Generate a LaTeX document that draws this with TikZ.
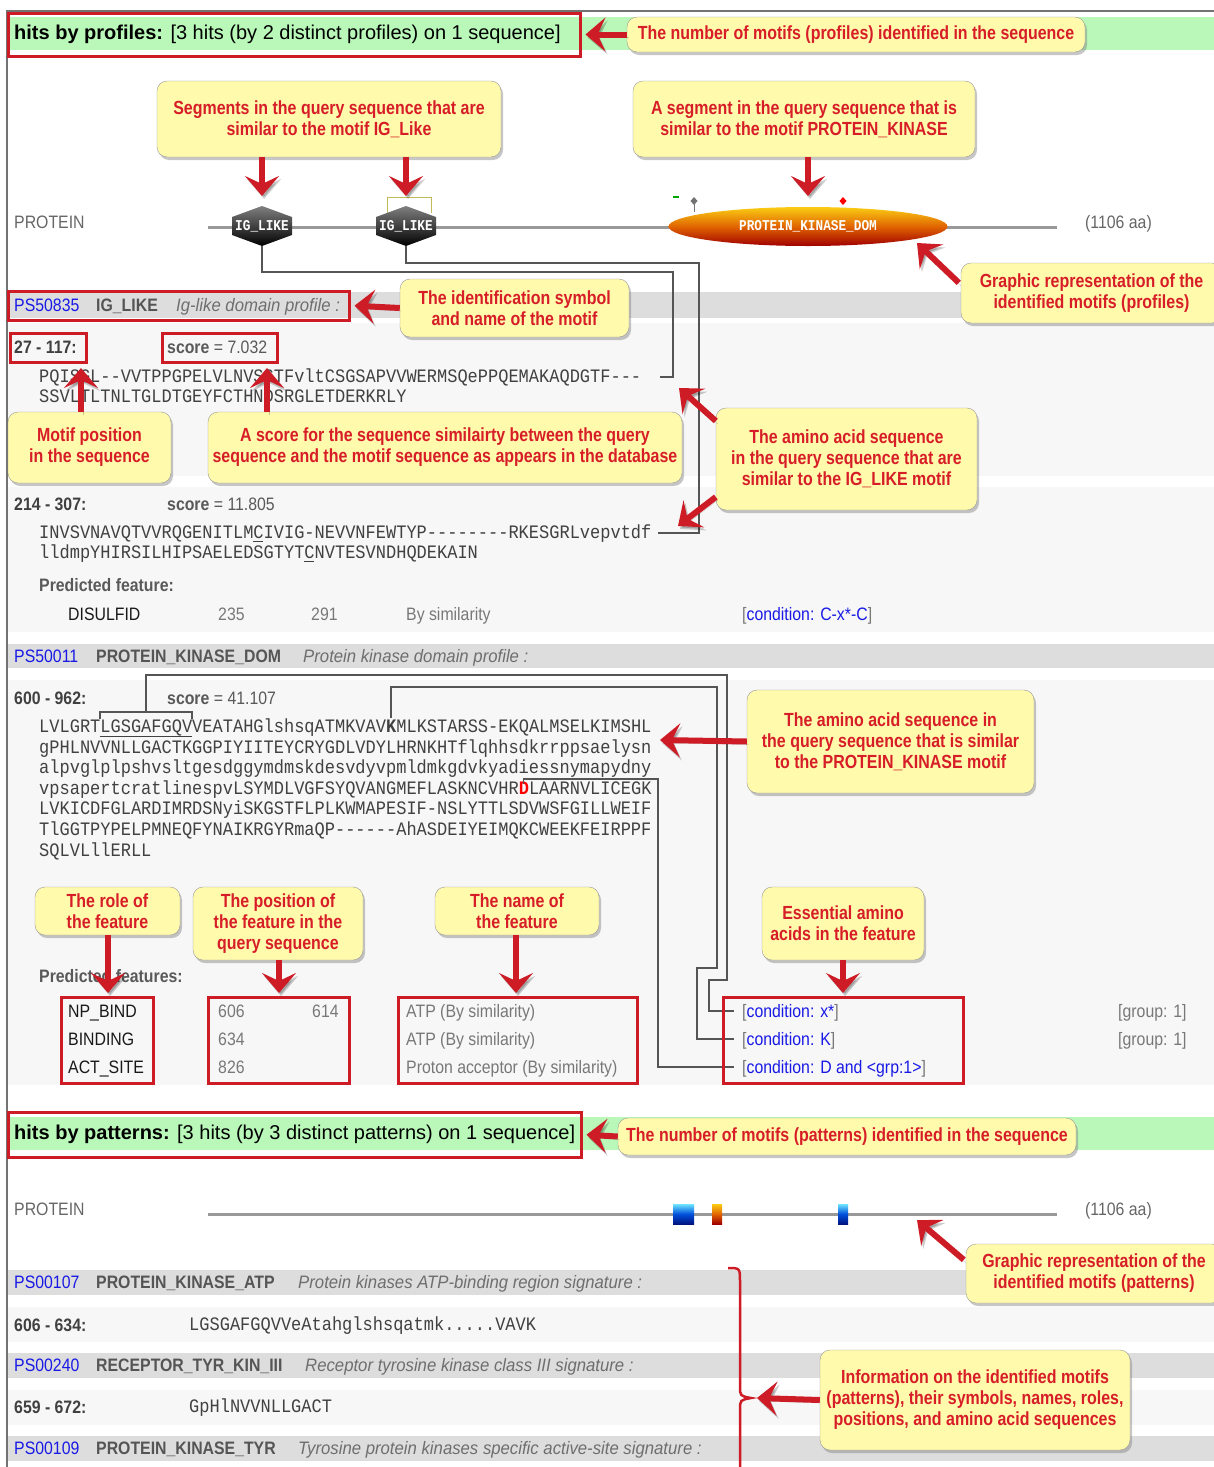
\documentclass[tikz,border=0pt]{standalone}
\usepackage{fontspec}
\setmainfont{Liberation Sans}
\newfontfamily\pagefont[FakeStretch=0.88]{Liberation Sans}
\newfontfamily\descfont[FakeStretch=0.93]{Liberation Sans}
\newfontfamily\notefont[FakeStretch=0.84]{Liberation Sans}
\newfontfamily\seqfont[FakeStretch=0.895,Ligatures=TeXOff]{Liberation Mono}
\newfontfamily\glyphfont[FakeStretch=0.85,Ligatures=TeXOff]{Liberation Mono}
\usetikzlibrary{arrows.meta,positioning,shapes,shadows}

\definecolor{notefill}{RGB}{255,250,172}
\definecolor{notered}{RGB}{215,30,40}
\definecolor{boxred}{RGB}{206,28,38}
\definecolor{bandgreen}{RGB}{185,248,185}
\definecolor{bargray}{RGB}{221,221,221}
\definecolor{rowgray}{RGB}{247,247,247}
\definecolor{linkblue}{RGB}{25,25,230}
\definecolor{namegray}{RGB}{85,85,85}
\definecolor{descgray}{RGB}{110,110,110}
\definecolor{numgray}{RGB}{120,120,120}
\definecolor{seqgray}{RGB}{65,65,65}
\definecolor{wiregray}{RGB}{85,85,85}
\definecolor{kintop}{RGB}{250,205,20}
\definecolor{kinmid}{RGB}{225,100,0}
\definecolor{kinbot}{RGB}{160,0,0}
\definecolor{patcyan}{RGB}{110,230,255}
\definecolor{patblue}{RGB}{0,80,220}
\definecolor{patnavy}{RGB}{0,20,130}

\def\cw{10.2}

\begin{document}
\begin{tikzpicture}[x=1pt,y=-1pt,
  note/.style={draw=black!40, fill=notefill, rounded corners=10pt, text=notered,
    font=\notefont\bfseries\fontsize{19}{21}\selectfont, align=center, inner sep=3pt,
    drop shadow={shadow xshift=2pt, shadow yshift=-3pt, opacity=.45}},
  redbox/.style={draw=boxred, line width=3pt, inner sep=0pt},
  callarrow/.style={draw=boxred, line width=6pt, -{Stealth[length=20pt,width=34pt,inset=8pt]},
    preaction={draw=black, opacity=.2, transform canvas={shift={(2pt,-3pt)}}}},
  ptxt/.style={font=\pagefont\fontsize{18}{20}\selectfont, anchor=west, inner sep=0pt,
    text height=14pt, text depth=2pt},
  hdr/.style={font=\fontsize{20}{24}\selectfont, anchor=west, inner sep=0pt,
    text height=15pt, text depth=2pt},
  seq/.style={font=\seqfont\fontsize{19}{20}\selectfont, anchor=west, inner sep=0pt,
    text=seqgray, text height=12pt, text depth=1pt},
  link/.style={ptxt, text=linkblue},
  pname/.style={ptxt, text=namegray, font=\pagefont\bfseries\fontsize{18}{20}\selectfont},
  pdesc/.style={ptxt, text=descgray, font=\descfont\itshape\fontsize{18}{20}\selectfont},
  poslbl/.style={ptxt, text=black!75, font=\pagefont\bfseries\fontsize{18}{20}\selectfont},
  gtxt/.style={ptxt, text=numgray},
  wire/.style={draw=wiregray, line width=1.5pt},
  motif/.style={text=white, font=\glyphfont\bfseries\fontsize{15}{16}\selectfont, inner sep=0pt},
]
\useasboundingbox (0,0) rectangle (1214,1467);
\draw[black!55, line width=1.5pt] (7,1467) -- (7,11) -- (1214,11);

% backgrounds
\fill[bandgreen] (8,17) rectangle (1214,50);
\fill[bargray] (8,292) rectangle (1214,318);
\fill[rowgray] (8,323) rectangle (1214,476);
\fill[rowgray] (8,487) rectangle (1214,632);
\fill[bargray] (8,644) rectangle (1214,668);
\fill[rowgray] (8,680) rectangle (1214,1085);
\fill[bandgreen] (8,1117) rectangle (1214,1150);
\fill[bargray] (8,1270) rectangle (1214,1295);
\fill[rowgray] (8,1307) rectangle (1214,1342);
\fill[bargray] (8,1353) rectangle (1214,1378);
\fill[rowgray] (8,1390) rectangle (1214,1425);
\fill[bargray] (8,1436) rectangle (1214,1461);

% hits by profiles
\node[hdr] (hproft) at (14,33) {\textbf{hits by profiles:} [3 hits (by 2 distinct profiles) on 1 sequence]};
\node[ptxt, text=black!60] (prot1) at (14,222) {PROTEIN};
\draw[black!40, line width=3pt] (208,227) -- (1057,227);
\node[ptxt, text=black!60] (len1) at (1085,222) {(1106 aa)};
\draw[olive!55, line width=1pt] (387,213) -- (387,197) -- (431,197) -- (431,213);
\foreach \x/\n in {262/ig1, 406/ig2} {
  \shade[top color=black!50, bottom color=black] (\x,206) -- ({\x+30},217) -- ({\x+30},235)
    -- (\x,246) -- ({\x-30},235) -- ({\x-30},217) -- cycle;
  \node[motif] (\n) at (\x,226) {IG\_LIKE};
  \coordinate (\n b) at (\x,246);
  \coordinate (\n t) at (\x,196);
}
\node[ellipse, minimum width=279pt, minimum height=39pt, top color=kintop, bottom color=kinbot,
  middle color=kinmid, motif] (kin) at (808,226.5) {PROTEIN\_KINASE\_DOM};
\coordinate (kint) at (808,196);
\draw[green!65!black, line width=2pt] (673,197) -- (679,197);
\draw[black!55, line width=1pt] (694,201) -- (694,212);
\fill[black!55] (694,197) -- (697.5,201) -- (694,205) -- (690.5,201) -- cycle;
\fill[red] (843,197) -- (846.5,201) -- (843,205) -- (839.5,201) -- cycle;

% IG_LIKE profile
\node[link] (id1) at (14,305) {PS50835};
\node[pname] (nm1) at (96,305) {IG\_LIKE};
\node[pdesc] (de1) at (176,305) {Ig-like domain profile :};
\node[poslbl] (rg1) at (14,347) {27 - 117:};
\node[ptxt, text=black!65] (sc1) at (167,347) {\textbf{score} = 7.032};
\node[seq] (q1a) at (39,377) {PQISGL--VVTPPGPELVLNVSSTFvltCSGSAPVVWERMSQePPQEMAKAQDGTF---};
\node[seq] (q1b) at (39,397) {SSVLTLTNLTGLDTGEYFCTHNDSRGLETDERKRLY};
\node[poslbl] (rg2) at (14,504) {214 - 307:};
\node[ptxt, text=black!65] (sc2) at (167,504) {\textbf{score} = 11.805};
\node[seq] (q2a) at (39,533) {INVSVNAVQTVVRQGENITLMCIVIG-NEVVNFEWTYP--------RKESGRLvepvtdf};
\node[seq] (q2b) at (39,553) {lldmpYHIRSILHIPSAELEDSGTYTCNVTESVNDHQDEKAIN};
\draw[seqgray, line width=1pt] ({39+21*\cw},541) -- ({39+22*\cw},541);
\draw[seqgray, line width=1pt] ({39+26*\cw},561) -- ({39+27*\cw},561);
\node[poslbl, text=black!65] (pf1) at (39,585) {Predicted feature:};
\node[ptxt, text=black!90] (ft1) at (68,614) {DISULFID};
\node[gtxt] (fa1) at (218,614) {235};
\node[gtxt] (fb1) at (311,614) {291};
\node[gtxt] (fc1) at (406,614) {By similarity};
\node[gtxt] (fd1) at (742,614) {[\textcolor{linkblue}{condition: C-x*-C}]};

% PROTEIN_KINASE_DOM profile
\node[link] (id2) at (14,656) {PS50011};
\node[pname] (nm2) at (96,656) {PROTEIN\_KINASE\_DOM};
\node[pdesc] (de2) at (303,656) {Protein kinase domain profile :};
\node[poslbl] (rg3) at (14,698) {600 - 962:};
\node[ptxt, text=black!65] (sc3) at (167,698) {\textbf{score} = 41.107};
\node[seq] (k1) at (39,727) {LVLGRTLGSGAFGQVVEATAHGlshsqATMKVAV\textbf{K}MLKSTARSS-EKQALMSELKIMSHL};
\node[seq] (k2) at (39,747.6) {gPHLNVVNLLGACTKGGPIYIITEYCRYGDLVDYLHRNKHTflqhhsdkrrppsaelysn};
\node[seq] (k3) at (39,768.2) {alpvglplpshvsltgesdggymdmskdesvdyvpmldmkgdvkyadiessnymapydny};
\node[seq] (k4) at (39,788.8) {vpsapertcratlinespvLSYMDLVGFSYQVANGMEFLASKNCVHR\textcolor{red}{\textbf{D}}LAARNVLICEGK};
\node[seq] (k5) at (39,809.4) {LVKICDFGLARDIMRDSNyiSKGSTFLPLKWMAPESIF-NSLYTTLSDVWSFGILLWEIF};
\node[seq] (k6) at (39,830) {TlGGTPYPELPMNEQFYNAIKRGYRmaQP------AhASDEIYEIMQKCWEEKFEIRPPF};
\node[seq] (k7) at (39,850.6) {SQLVLllERLL};
\draw[seqgray, line width=1pt] ({39+6*\cw},736) -- ({39+15*\cw},736);
\node[poslbl, text=black!65] (pf2) at (39,976) {Predicted features:};
\node[ptxt, text=black!90] (r1) at (68,1011) {NP\_BIND};
\node[ptxt, text=black!90] (r2) at (68,1039) {BINDING};
\node[ptxt, text=black!90] (r3) at (68,1067) {ACT\_SITE};
\node[gtxt] (p1) at (218,1011) {606};
\node[gtxt] (p1e) at (312,1011) {614};
\node[gtxt] (p2) at (218,1039) {634};
\node[gtxt] (p3) at (218,1067) {826};
\node[gtxt] (d1) at (406,1011) {ATP (By similarity)};
\node[gtxt] (d2) at (406,1039) {ATP (By similarity)};
\node[gtxt] (d3) at (406,1067) {Proton acceptor (By similarity)};
\node[gtxt] (cx) at (742,1011) {[\textcolor{linkblue}{condition: x*}]};
\node[gtxt] (ck) at (742,1039) {[\textcolor{linkblue}{condition: K}]};
\node[gtxt] (cd) at (742,1067) {[\textcolor{linkblue}{condition: D and <grp:1>}]};
\node[gtxt] (g1) at (1118,1011) {[group: 1]};
\node[gtxt] (g2) at (1118,1039) {[group: 1]};

% wires from the hits to their sequences and sites
\coordinate (w1) at (660,377);
\coordinate (w2) at (658,533);
\draw[wire] (ig1b) |- (673,272) |- (w1);
\draw[wire] (ig2b) |- (699,263) |- (w2);
\draw[wire] ({39+6*\cw},719) |- ({39+15*\cw},712) -- ({39+15*\cw},719);
\draw[wire] ({39+10.5*\cw},712) |- (727,675) |- (709,980) |- ([xshift=-8pt]cx.west);
\draw[wire] ({39+34.5*\cw},718) |- (717,687) |- (697,968) |- ([xshift=-8pt]ck.west);
\draw[wire] ({39+47.5*\cw},784) |- (658,779) |- ([xshift=-8pt]cd.west);

% hits by patterns
\node[hdr] (hpatt) at (14,1133) {\textbf{hits by patterns:} [3 hits (by 3 distinct patterns) on 1 sequence]};
\node[ptxt, text=black!60] (prot2) at (14,1209) {PROTEIN};
\draw[black!40, line width=3pt] (208,1214) -- (1057,1214);
\node[ptxt, text=black!60] (len2) at (1085,1209) {(1106 aa)};
\shade[top color=patcyan, bottom color=patnavy, middle color=patblue] (673,1204) rectangle (694,1224);
\shade[top color=kintop, bottom color=kinbot, middle color=kinmid] (712,1204) rectangle (722,1224);
\shade[top color=patcyan, bottom color=patnavy, middle color=patblue] (838,1204) rectangle (848,1224);
\node[link] (id3) at (14,1282) {PS00107};
\node[pname] (nm3) at (96,1282) {PROTEIN\_KINASE\_ATP};
\node[pdesc] (de3) at (298,1282) {Protein kinases ATP-binding region signature :};
\node[poslbl] (rg4) at (14,1325) {606 - 634:};
\node[seq] (s3) at (189,1325) {LGSGAFGQVVeAtahglshsqatmk.....VAVK};
\node[link] (id4) at (14,1365) {PS00240};
\node[pname] (nm4) at (96,1365) {RECEPTOR\_TYR\_KIN\_III};
\node[pdesc] (de4) at (305,1365) {Receptor tyrosine kinase class III signature :};
\node[poslbl] (rg5) at (14,1407) {659 - 672:};
\node[seq] (s4) at (189,1407) {GpHlNVVNLLGACT};
\node[link] (id5) at (14,1448) {PS00109};
\node[pname] (nm5) at (96,1448) {PROTEIN\_KINASE\_TYR};
\node[pdesc] (de5) at (298,1448) {Tyrosine protein kinases specific active-site signature :};

% red frames
\node[redbox, minimum width=572pt, minimum height=43pt] (hprof) at (294,34.5) {};
\node[redbox, minimum width=341pt, minimum height=29pt] (hid1) at (178.5,305.5) {};
\node[redbox, minimum width=76pt, minimum height=29pt] (hrg1) at (48,347.5) {};
\node[redbox, minimum width=115pt, minimum height=29pt] (hsc1) at (219.5,347.5) {};
\node[redbox, minimum width=92pt, minimum height=86pt] (hrole) at (107,1040) {};
\node[redbox, minimum width=141pt, minimum height=86pt] (hpos) at (278.5,1040) {};
\node[redbox, minimum width=239pt, minimum height=86pt] (hname) at (517.5,1040) {};
\node[redbox, minimum width=240pt, minimum height=86pt] (hcond) at (843,1040) {};
\node[redbox, minimum width=573pt, minimum height=45pt] (hpat) at (294.5,1134.5) {};
\draw[boxred, line width=2.5pt] (728,1268) .. controls (740,1268) .. (740,1282) -- (740,1386)
  .. controls (740,1396) .. (751,1398) .. controls (740,1400) .. (740,1410) -- (740,1470);
\coordinate (brace) at (757,1398);

% notes
\node[note, minimum width=458pt, minimum height=35pt] (nprof) at (856,34.5) {The number of motifs (profiles) identified in the sequence};
\node[note, minimum width=344pt, minimum height=76pt] (nseg) at (329,119) {Segments in the query sequence that are\\similar to the motif IG\_Like};
\node[note, minimum width=342pt, minimum height=76pt] (nkin) at (804,119) {A segment in the query sequence that is\\similar to the motif PROTEIN\_KINASE};
\node[note, minimum width=261pt, minimum height=60pt] (ngraf) at (1091.5,293) {Graphic representation of the\\identified motifs (profiles)};
\node[note, minimum width=229pt, minimum height=58pt] (nident) at (514.5,308) {The identification symbol\\and name of the motif};
\node[note, minimum width=163pt, minimum height=71pt] (npos) at (89.5,447.5) {Motif position\\in the sequence};
\node[note, minimum width=474pt, minimum height=71pt] (nscore) at (445,447.5) {A score for the sequence similairty between the query\\sequence and the motif sequence as appears in the database};
\node[note, minimum width=261pt, minimum height=102pt] (naa) at (846.5,459) {The amino acid sequence\\in the query sequence that are\\similar to the IG\_LIKE motif};
\node[note, minimum width=287pt, minimum height=103pt] (nkaa) at (890.5,741.5) {The amino acid sequence in\\the query sequence that is similar\\to the PROTEIN\_KINASE motif};
\node[note, minimum width=145pt, minimum height=48pt] (nrole) at (107.5,911) {The role of\\the feature};
\node[note, minimum width=170pt, minimum height=73pt] (nfpos) at (278,923.5) {The position of\\the feature in the\\query sequence};
\node[note, minimum width=164pt, minimum height=48pt] (nfname) at (517,911) {The name of\\the feature};
\node[note, minimum width=162pt, minimum height=73pt] (ness) at (843,923.5) {Essential amino\\acids in the feature};
\node[note, minimum width=458pt, minimum height=37pt] (npat) at (847,1136.5) {The number of motifs (patterns) identified in the sequence};
\node[note, minimum width=256pt, minimum height=59pt] (ngrafp) at (1094,1273.5) {Graphic representation of the\\identified motifs (patterns)};
\node[note, minimum width=310pt, minimum height=100pt] (ninfo) at (975,1400) {Information on the identified motifs\\(patterns), their symbols, names, roles,\\positions, and amino acid sequences};

% arrows
\coordinate (tgraf) at (917,243);
\coordinate (tpos) at (81,368);
\coordinate (tsc) at (267,368);
\coordinate (taa1) at (679,388);
\coordinate (taa2) at (678,526);
\coordinate (tkaa) at (660,740);
\coordinate (trole) at (108,993);
\coordinate (tfpos) at (279,993);
\coordinate (tfname) at (516,993);
\coordinate (tess) at (843,993);
\coordinate (tgrafp) at (917,1220);
\draw[callarrow, shorten >=4pt] (nprof.west) -- (hprof.east);
\draw[callarrow] (nseg.south -| ig1t) -- (ig1t);
\draw[callarrow] (nseg.south -| ig2t) -- (ig2t);
\draw[callarrow] (nkin.south -| kint) -- (kint);
\draw[callarrow] (ngraf.north west) ++(-2,20) -- (tgraf);
\draw[callarrow, shorten >=4pt] (nident.west) -- (hid1.east);
\draw[callarrow] (npos.north -| tpos) -- (tpos);
\draw[callarrow] (nscore.north -| tsc) -- (tsc);
\draw[callarrow] (naa.west) ++(0,-38) -- (taa1);
\draw[callarrow] (naa.west) ++(0,38) -- (taa2);
\draw[callarrow] (nkaa.west) -- (tkaa);
\draw[callarrow] (nrole.south -| trole) -- (trole);
\draw[callarrow] (nfpos.south -| tfpos) -- (tfpos);
\draw[callarrow] (nfname.south -| tfname) -- (tfname);
\draw[callarrow] (ness.south -| tess) -- (tess);
\draw[callarrow, shorten >=4pt] (npat.west) -- (hpat.east);
\draw[callarrow] (ngrafp.north west) ++(-2,16) -- (tgrafp);
\draw[callarrow] (ninfo.west) -- (brace);
\end{tikzpicture}
\end{document}
